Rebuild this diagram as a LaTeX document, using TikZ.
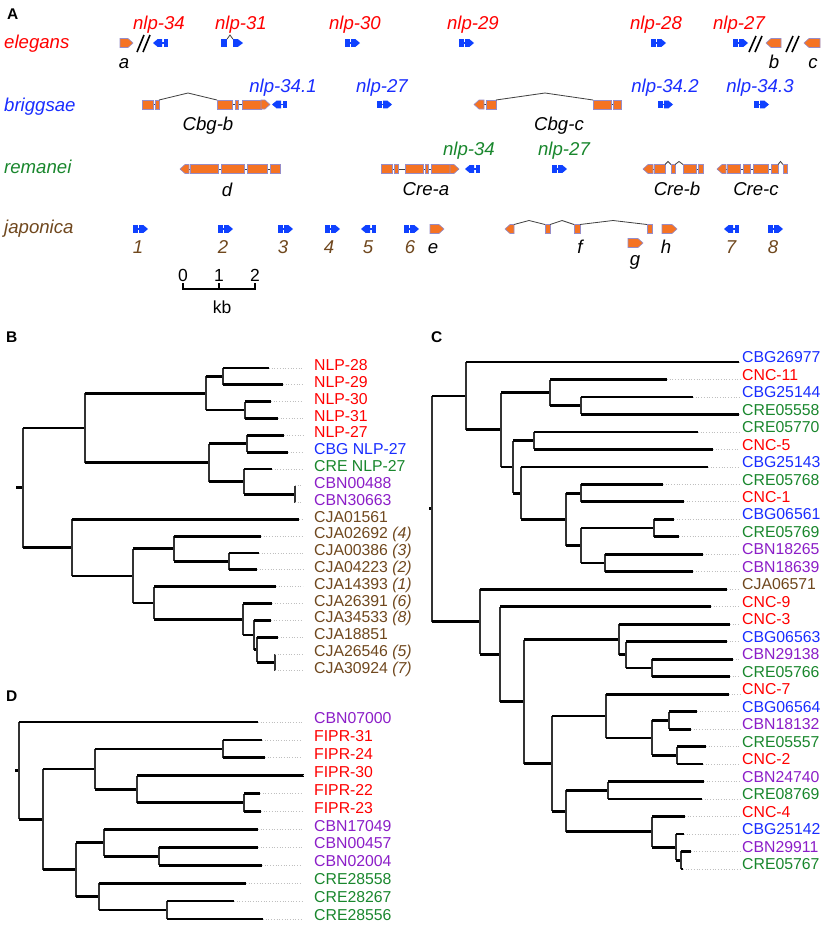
\documentclass[tikz,border=0pt]{standalone}
\usepackage{fontspec}
\setmainfont{Liberation Sans}
\definecolor{cred}{RGB}{255,0,0}
\definecolor{cblue}{RGB}{25,45,255}
\definecolor{cgreen}{RGB}{25,135,45}
\definecolor{cpurple}{RGB}{140,30,200}
\definecolor{cbrown}{RGB}{112,72,30}
\definecolor{gorange}{RGB}{245,115,35}
\definecolor{gborder}{RGB}{150,140,200}
\definecolor{gblue}{RGB}{15,65,255}
\tikzset{
  gl/.style={font=\fontsize{18.6}{20}\selectfont\itshape, anchor=base, inner sep=0pt},
  sp/.style={font=\fontsize{18.6}{20}\selectfont\itshape, anchor=base west, inner sep=0pt},
  scl/.style={font=\fontsize{17.5}{19}\selectfont, anchor=base, inner sep=0pt},
  lab/.style={font=\fontsize{15.8}{18}\selectfont, anchor=base west, inner sep=0pt},
  plet/.style={font=\fontsize{15.5}{17}\selectfont\bfseries, anchor=base west, inner sep=0pt},
  gene/.style={fill=gorange, draw=gborder, line width=0.6pt},
  intron/.style={draw=black!75, line width=0.8pt},
  slash/.style={draw=black, line width=1.6pt},
  hbr/.style={draw=black, line width=2.8pt},
  vbr/.style={draw=black!80, line width=1.7pt},
  dotl/.style={draw=gray!50, dotted, line width=0.7pt},
}
% blue glyphs (left x, centre y)
\newcommand\bR[2]{%
  \fill[gblue] (#1,#2-3.8) rectangle (#1+4.5,#2+3.8);
  \draw[gblue,line width=1.2pt] (#1+4.5,#2) -- (#1+6,#2);
  \fill[gblue] (#1+6,#2-3.8) -- (#1+10.5,#2-3.8) -- (#1+15,#2) -- (#1+10.5,#2+3.8) -- (#1+6,#2+3.8) -- cycle;}
\newcommand\bL[2]{%
  \fill[gblue] (#1,#2) -- (#1+4.5,#2-3.8) -- (#1+9,#2-3.8) -- (#1+9,#2+3.8) -- (#1+4.5,#2+3.8) -- cycle;
  \draw[gblue,line width=1.2pt] (#1+9,#2) -- (#1+10.5,#2);
  \fill[gblue] (#1+10.5,#2-3.8) rectangle (#1+15,#2+3.8);}
% orange genes (x1, x2, y)
\newcommand\ex[3]{\draw[gene] (#1,#3-4.5) rectangle (#2,#3+4.5);}
\newcommand\pR[3]{\draw[gene] (#1,#3-4.5) -- (#2-5,#3-4.5) -- (#2,#3) -- (#2-5,#3+4.5) -- (#1,#3+4.5) -- cycle;}
\newcommand\pL[3]{\draw[gene] (#1,#3) -- (#1+5,#3-4.5) -- (#2,#3-4.5) -- (#2,#3+4.5) -- (#1+5,#3+4.5) -- cycle;}
\newcommand\intr[3]{\draw[intron] (#1,#3) -- (#2,#3);}
\newcommand\hatl[5]{\draw[intron] (#1,#4) -- (#2,#5) -- (#3,#4);}
% tree branches
\newcommand\hb[3]{\draw[hbr] (#1,#3) -- (#2,#3);}
\newcommand\vb[3]{\draw[vbr] (#1,#2) -- (#1,#3);}
\newcommand\leafB[5]{\draw[dotl] (#2,#3) -- (303,#3); \node[lab,text=#4] (#1) at (314,#3+2.6) {#5};}
\newcommand\leafC[5]{\draw[dotl] (#2,#3) -- (740,#3); \node[lab,text=#4] (#1) at (742,#3+0.6) {#5};}
\newcommand\leafD[5]{\draw[dotl] (#2,#3) -- (302,#3); \node[lab,text=#4] (#1) at (314,#3+1.6) {#5};}
\begin{document}
\begin{tikzpicture}[x=1pt,y=-1pt]
\useasboundingbox (0,0) rectangle (827,927);
\fill[white] (0,0) rectangle (827,927);
% ---------------- panel A ----------------
\node[plet] (pA) at (7,19.5) {A};
% row 1 elegans
\node[sp,text=cred] (el) at (4,48) {elegans};
\pR{120}{133}{43}
\draw[slash] (137,52) -- (144,35); \draw[slash] (143,52) -- (150,35);
\bL{153}{43}
\fill[gblue] (221,39.2) rectangle (227,46.8);
\draw[intron] (227,39.2) -- (230,35) -- (233,39.2);
\fill[gblue] (233,39.2) -- (238,39.2) -- (243,43) -- (238,46.8) -- (233,46.8) -- cycle;
\bR{345}{43} \bR{459}{43} \bR{651}{43} \bR{733}{43}
\draw[slash] (749,52) -- (756,36); \draw[slash] (755,52) -- (762,36);
\pL{766}{781}{43}
\draw[slash] (786,52) -- (793,36); \draw[slash] (792,52) -- (799,36);
\pL{804}{820}{43}
\node[gl,text=cred] (e34) at (159,29) {nlp-34};
\node[gl,text=cred] (e31) at (241,29) {nlp-31};
\node[gl,text=cred] (e30) at (355,29) {nlp-30};
\node[gl,text=cred] (e29) at (473,29) {nlp-29};
\node[gl,text=cred] (e28) at (656,29) {nlp-28};
\node[gl,text=cred] (e27) at (739,29) {nlp-27};
\node[gl] (ga) at (124,68) {a};
\node[gl] (gb) at (774,68) {b};
\node[gl] (gc) at (813,68) {c};
% row 2 briggsae
\node[sp,text=cblue] (br) at (4,111) {briggsae};
\intr{142}{159}{104.5}
\ex{142}{153}{104.5} \ex{155}{159}{104.5}
\hatl{159}{188}{217}{100}{93}
\intr{217}{270}{104.5}
\ex{217}{232}{104.5} \ex{235}{238}{104.5} \ex{242}{261}{104.5} \pR{261}{270}{104.5}
\bL{272}{104.5}
\bR{377}{104.5}
\intr{474}{496}{104.5}
\pL{474}{484}{104.5} \ex{486}{496}{104.5}
\hatl{496}{545}{593}{100}{93}
\intr{593}{621}{104.5}
\ex{593}{611}{104.5} \ex{613}{621}{104.5}
\bR{658}{104.5} \bR{754}{104.5}
\node[gl,text=cblue] (b341) at (283,92) {nlp-34.1};
\node[gl,text=cblue] (b27) at (382,92) {nlp-27};
\node[gl,text=cblue] (b342) at (665,92) {nlp-34.2};
\node[gl,text=cblue] (b343) at (760,92) {nlp-34.3};
\node[gl] (cbgb) at (208,130) {Cbg-b};
\node[gl] (cbgc) at (559,130) {Cbg-c};
% row 3 remanei
\node[sp,text=cgreen] (re) at (4,173) {remanei};
\intr{180}{280}{169}
\pL{180}{189}{169} \ex{190}{218}{169} \ex{221}{244}{169} \ex{247}{267}{169} \ex{270}{280}{169}
\intr{381}{459}{169}
\ex{381}{392}{169} \ex{394}{398}{169} \ex{405}{423}{169} \ex{425}{428}{169} \ex{431}{450}{169} \pR{450}{459}{169}
\bL{465}{169}
\bR{552}{169}
\intr{643}{654}{169} \intr{696}{698}{169}
\pL{643}{653}{169} \ex{654}{665}{169}
\hatl{665}{668}{671}{164.5}{161.5}
\ex{671}{675}{169}
\hatl{675}{679}{683}{164.5}{161.5}
\ex{683}{696}{169} \ex{698}{703}{169}
\intr{717}{778}{169}
\pL{717}{726}{169} \ex{727}{740}{169} \ex{743}{750}{169} \ex{753}{768}{169} \ex{771}{778}{169}
\hatl{778}{780.5}{783}{164.5}{161.5}
\ex{783}{787}{169}
\node[gl,text=cgreen] (r34) at (469,155) {nlp-34};
\node[gl,text=cgreen] (r27) at (564,155) {nlp-27};
\node[gl] (gd) at (227,196) {d};
\node[gl] (crea) at (426,195) {Cre-a};
\node[gl] (creb) at (677,195) {Cre-b};
\node[gl] (crec) at (756,195) {Cre-c};
% row 4 japonica
\node[sp,text=cbrown] (ja) at (4,233) {japonica};
\bR{133}{229} \bR{218}{229} \bR{278}{229} \bR{325}{229} \bL{361}{229} \bR{404}{229}
\pR{430}{444}{229}
\pL{505}{514}{229}
\hatl{514}{529}{545}{224.5}{220.5}
\ex{545}{550}{229}
\hatl{550}{562}{574}{224.5}{220.5}
\ex{574}{580}{229}
\hatl{580}{613}{647}{224.5}{220.5}
\ex{647}{652}{229}
\pR{628}{643}{243}
\pR{662}{677}{229}
\bL{724}{229} \bR{768}{229}
\node[gl,text=cbrown] (j1) at (138,253) {1};
\node[gl,text=cbrown] (j2) at (223,253) {2};
\node[gl,text=cbrown] (j3) at (283,253) {3};
\node[gl,text=cbrown] (j4) at (329,253) {4};
\node[gl,text=cbrown] (j5) at (368,253) {5};
\node[gl,text=cbrown] (j6) at (410,253) {6};
\node[gl,text=cbrown] (j7) at (731,253) {7};
\node[gl,text=cbrown] (j8) at (773,253) {8};
\node[gl] (ge) at (433,253) {e};
\node[gl] (gf) at (580,253) {f};
\node[gl] (gg) at (635,265) {g};
\node[gl] (gh) at (666,253) {h};
% scale bar
\draw[line width=1.2pt] (183,283) -- (183,289) -- (255,289) -- (255,283);
\draw[line width=1.2pt] (219,289) -- (219,283);
\node[scl] (s0) at (183,281) {0};
\node[scl] (s1) at (219,281) {1};
\node[scl] (s2) at (255,281) {2};
\node[scl] (kb) at (222,313) {kb};
% ---------------- panel B ----------------
\node[plet] (pB) at (6,342.5) {B};
\hb{16}{23}{487.8} \vb{23}{427.9}{547.7}
\hb{23}{85}{427.9} \vb{85}{393.2}{462.6}
\hb{85}{206}{393.2} \vb{206}{376.4}{410}
\hb{206}{223}{376.4} \vb{223}{368}{384.8}
\hb{223}{269}{368} \hb{223}{283}{384.8}
\hb{206}{245}{410} \vb{245}{401.6}{418.5}
\hb{245}{271}{401.6} \hb{245}{278}{418.5}
\hb{85}{209}{462.6} \vb{209}{443.7}{481.5}
\hb{209}{247}{443.7} \vb{247}{435.3}{452.1}
\hb{247}{284}{435.3} \hb{247}{288}{452.1}
\hb{209}{244}{481.5} \vb{244}{468.9}{494.1}
\hb{244}{272}{468.9}
\hb{244}{295}{494.1} \vb{295}{485.7}{502.6}
\hb{23}{72}{547.7} \vb{72}{519.4}{575.9}
\hb{72}{299}{519.4}
\hb{72}{133}{575.9} \vb{133}{548.8}{603}
\hb{133}{174}{548.8} \vb{174}{536.2}{561.4}
\hb{174}{261}{536.2}
\hb{174}{229}{561.4} \vb{229}{553}{569.8}
\hb{229}{259}{553} \hb{229}{257}{569.8}
\hb{133}{154}{603} \vb{154}{586.7}{619.3}
\hb{154}{276}{586.7}
\hb{154}{243}{619.3} \vb{243}{603.5}{635}
\hb{243}{272}{603.5}
\hb{243}{254}{635} \vb{254}{620.3}{649.7}
\hb{254}{271}{620.3}
\hb{254}{257}{649.7} \vb{257}{637.1}{662.4}
\hb{257}{278}{637.1}
\hb{257}{275}{662.4} \vb{275}{653.9}{670.8}
\leafB{b0}{269}{368}{cred}{NLP-28}
\leafB{b1}{283}{384.8}{cred}{NLP-29}
\leafB{b2}{271}{401.6}{cred}{NLP-30}
\leafB{b3}{278}{418.5}{cred}{NLP-31}
\leafB{b4}{284}{435.3}{cred}{NLP-27}
\leafB{b5}{288}{452.1}{cblue}{CBG NLP-27}
\leafB{b6}{272}{468.9}{cgreen}{CRE NLP-27}
\leafB{b7}{295}{485.7}{cpurple}{CBN00488}
\leafB{b8}{295}{502.6}{cpurple}{CBN30663}
\leafB{b9}{299}{519.4}{cbrown}{CJA01561}
\leafB{b10}{261}{536.2}{cbrown}{CJA02692 \textit{(4)}}
\leafB{b11}{259}{553}{cbrown}{CJA00386 \textit{(3)}}
\leafB{b12}{257}{569.8}{cbrown}{CJA04223 \textit{(2)}}
\leafB{b13}{276}{586.7}{cbrown}{CJA14393 \textit{(1)}}
\leafB{b14}{272}{603.5}{cbrown}{CJA26391 \textit{(6)}}
\leafB{b15}{271}{620.3}{cbrown}{CJA34533 \textit{(8)}}
\leafB{b16}{278}{637.1}{cbrown}{CJA18851}
\leafB{b17}{275}{653.9}{cbrown}{CJA26546 \textit{(5)}}
\leafB{b18}{275}{670.8}{cbrown}{CJA30924 \textit{(7)}}
% ---------------- panel C ----------------
\node[plet] (pC) at (431,342.5) {C};
\hb{429}{432}{508.8} \vb{432}{395.9}{621.7}
\hb{432}{466}{395.9} \vb{466}{362}{429.8}
\hb{466}{739}{362}
\hb{466}{501}{429.8} \vb{501}{392.6}{466.9}
\hb{501}{550}{392.6} \vb{550}{379.5}{405.7}
\hb{550}{667}{379.5}
\hb{550}{581}{405.7} \vb{581}{397}{414.4}
\hb{581}{693}{397} \hb{581}{739}{414.4}
\hb{501}{513}{466.9} \vb{513}{440.7}{493.1}
\hb{513}{534}{440.7} \vb{534}{431.9}{449.4}
\hb{534}{698}{431.9} \hb{534}{713}{449.4}
\hb{513}{521}{493.1} \vb{521}{466.9}{519.3}
\hb{521}{708}{466.9}
\hb{521}{566}{519.3} \vb{566}{493.1}{545.5}
\hb{566}{581}{493.1} \vb{581}{484.4}{501.8}
\hb{581}{663}{484.4} \hb{581}{684}{501.8}
\hb{566}{581}{545.5} \vb{581}{528}{563}
\hb{581}{654}{528} \vb{654}{519.3}{536.8}
\hb{654}{674}{519.3} \hb{654}{679}{536.8}
\hb{581}{605}{563} \vb{605}{554.3}{571.8}
\hb{605}{703}{554.3} \hb{605}{693}{571.8}
\hb{432}{480}{621.7} \vb{480}{589.2}{654.2}
\hb{480}{727}{589.2}
\hb{480}{500}{654.2} \vb{500}{606.7}{701.6}
\hb{500}{711}{606.7}
\hb{500}{524}{701.6} \vb{524}{639.5}{763.6}
\hb{524}{619}{639.5} \vb{619}{624.2}{654.8}
\hb{619}{730}{624.2}
\hb{619}{626}{654.8} \vb{626}{641.7}{667.9}
\hb{626}{727}{641.7}
\hb{626}{652}{667.9} \vb{652}{659.2}{676.6}
\hb{652}{733}{659.2} \hb{652}{730}{676.6}
\hb{524}{552}{763.6} \vb{552}{716}{811.1}
\hb{552}{606}{716} \vb{606}{694.1}{737.9}
\hb{606}{729}{694.1}
\hb{606}{652}{737.9} \vb{652}{720.4}{755.3}
\hb{652}{669}{720.4} \vb{669}{711.6}{729.1}
\hb{669}{697}{711.6} \hb{669}{691}{729.1}
\hb{652}{677}{755.3} \vb{677}{746.6}{764}
\hb{677}{706}{746.6} \hb{677}{703}{764}
\hb{552}{566}{811.1} \vb{566}{790.3}{831.8}
\hb{566}{608}{790.3} \vb{608}{781.5}{799}
\hb{608}{704}{781.5} \hb{608}{702}{799}
\hb{566}{652}{831.8} \vb{652}{816.5}{847.1}
\hb{652}{685}{816.5}
\hb{652}{676}{847.1} \vb{676}{834}{860.2}
\hb{676}{684}{834}
\hb{676}{681}{860.2} \vb{681}{851.4}{868.9}
\hb{681}{691}{851.4} \hb{681}{683}{868.9}
\leafC{c0}{739}{362}{cblue}{CBG26977}
\leafC{c1}{667}{379.5}{cred}{CNC-11}
\leafC{c2}{693}{397}{cblue}{CBG25144}
\leafC{c3}{739}{414.4}{cgreen}{CRE05558}
\leafC{c4}{698}{431.9}{cgreen}{CRE05770}
\leafC{c5}{713}{449.4}{cred}{CNC-5}
\leafC{c6}{708}{466.9}{cblue}{CBG25143}
\leafC{c7}{663}{484.4}{cgreen}{CRE05768}
\leafC{c8}{684}{501.8}{cred}{CNC-1}
\leafC{c9}{674}{519.3}{cblue}{CBG06561}
\leafC{c10}{679}{536.8}{cgreen}{CRE05769}
\leafC{c11}{703}{554.3}{cpurple}{CBN18265}
\leafC{c12}{693}{571.8}{cpurple}{CBN18639}
\leafC{c13}{727}{589.2}{cbrown}{CJA06571}
\leafC{c14}{711}{606.7}{cred}{CNC-9}
\leafC{c15}{730}{624.2}{cred}{CNC-3}
\leafC{c16}{727}{641.7}{cblue}{CBG06563}
\leafC{c17}{733}{659.2}{cpurple}{CBN29138}
\leafC{c18}{730}{676.6}{cgreen}{CRE05766}
\leafC{c19}{729}{694.1}{cred}{CNC-7}
\leafC{c20}{697}{711.6}{cblue}{CBG06564}
\leafC{c21}{691}{729.1}{cpurple}{CBN18132}
\leafC{c22}{706}{746.6}{cgreen}{CRE05557}
\leafC{c23}{703}{764}{cred}{CNC-2}
\leafC{c24}{704}{781.5}{cpurple}{CBN24740}
\leafC{c25}{702}{799}{cgreen}{CRE08769}
\leafC{c26}{685}{816.5}{cred}{CNC-4}
\leafC{c27}{684}{834}{cblue}{CBG25142}
\leafC{c28}{691}{851.4}{cpurple}{CBN29911}
\leafC{c29}{683}{868.9}{cgreen}{CRE05767}
% ---------------- panel D ----------------
\node[plet] (pD) at (6,701.5) {D};
\hb{15}{19}{770.7} \vb{19}{722}{819.3}
\hb{19}{258}{722}
\hb{19}{43}{819.3} \vb{43}{769}{869.7}
\hb{43}{95}{769} \vb{95}{748.9}{789.1}
\hb{95}{223}{748.9} \vb{223}{739.9}{757.8}
\hb{223}{262}{739.9} \hb{223}{265}{757.8}
\hb{95}{137}{789.1} \vb{137}{775.7}{802.6}
\hb{137}{304}{775.7}
\hb{137}{244}{802.6} \vb{244}{793.6}{811.5}
\hb{244}{260}{793.6} \hb{244}{261}{811.5}
\hb{43}{76}{869.7} \vb{76}{842.8}{896.5}
\hb{76}{104}{842.8} \vb{104}{829.4}{856.3}
\hb{104}{258}{829.4}
\hb{104}{159}{856.3} \vb{159}{847.3}{865.2}
\hb{159}{258}{847.3} \hb{159}{262}{865.2}
\hb{76}{99}{896.5} \vb{99}{883.1}{910}
\hb{99}{246}{883.1}
\hb{99}{167}{910} \vb{167}{901}{918.9}
\hb{167}{234}{901} \hb{167}{263}{918.9}
\leafD{d0}{258}{722}{cpurple}{CBN07000}
\leafD{d1}{262}{739.9}{cred}{FIPR-31}
\leafD{d2}{265}{757.8}{cred}{FIPR-24}
\leafD{d3}{304}{775.7}{cred}{FIPR-30}
\leafD{d4}{260}{793.6}{cred}{FIPR-22}
\leafD{d5}{261}{811.5}{cred}{FIPR-23}
\leafD{d6}{258}{829.4}{cpurple}{CBN17049}
\leafD{d7}{258}{847.3}{cpurple}{CBN00457}
\leafD{d8}{262}{865.2}{cpurple}{CBN02004}
\leafD{d9}{246}{883.1}{cgreen}{CRE28558}
\leafD{d10}{234}{901}{cgreen}{CRE28267}
\leafD{d11}{263}{918.9}{cgreen}{CRE28556}
\end{tikzpicture}
\end{document}
